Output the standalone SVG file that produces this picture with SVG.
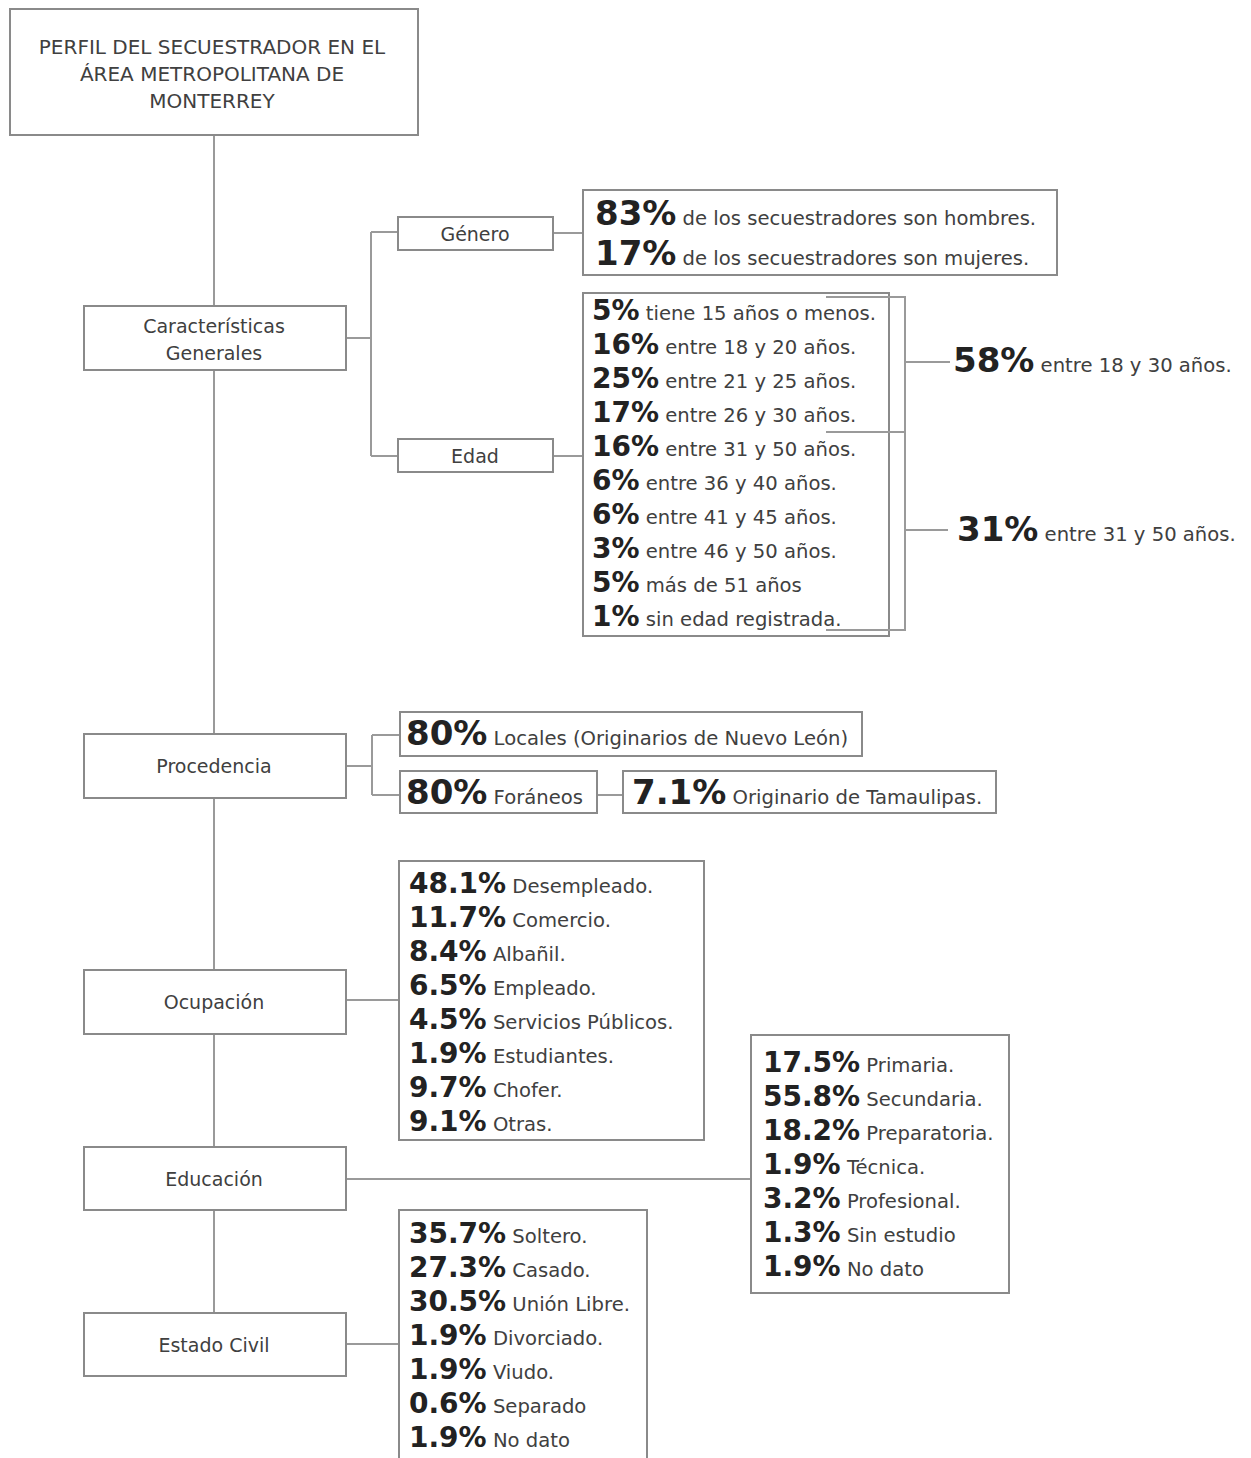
<svg xmlns="http://www.w3.org/2000/svg" width="1251" height="1458" viewBox="0 0 1251 1458">
<style>
.box{fill:#fff;stroke:#8a8a8a;stroke-width:2}
.ln{fill:none;stroke:#9a9a9a;stroke-width:2}
text{font-family:"DejaVu Sans",sans-serif;fill:#404040}
.lbl{font-size:19px;text-anchor:middle}
.ttl{font-size:20px;text-anchor:middle}
.n{font-size:19.6px}
.b{font-weight:bold;font-size:28px;fill:#222}
.B{font-weight:bold;font-size:34px;fill:#222}
</style>
<rect width="1251" height="1458" fill="#fff"/>
<g id="title"><rect class="box" x="10" y="9" width="408" height="126"/>
<text class="ttl" x="212" y="54">PERFIL DEL SECUESTRADOR EN EL</text>
<text class="ttl" x="212" y="81">ÁREA METROPOLITANA DE</text>
<text class="ttl" x="212" y="108">MONTERREY</text></g>
<g id="caracteristicas"><rect class="box" x="84" y="306" width="262" height="64"/>
<text class="lbl" x="214" y="333">Características</text>
<text class="lbl" x="214" y="360">Generales</text></g>
<g id="genero"><rect class="box" x="398" y="217" width="155" height="33"/>
<text class="lbl" x="475" y="241">Género</text></g>
<g id="edad"><rect class="box" x="398" y="439" width="155" height="33"/>
<text class="lbl" x="475" y="463">Edad</text></g>
<g id="genero-datos"><rect class="box" x="583" y="190" width="474" height="85"/>
<text x="595" y="225"><tspan class="B">83%</tspan><tspan class="n"> de los secuestradores son hombres.</tspan></text>
<text x="595" y="265"><tspan class="B">17%</tspan><tspan class="n"> de los secuestradores son mujeres.</tspan></text></g>
<g id="edad-datos"><rect class="box" x="583" y="293" width="306" height="343"/>
<text x="592" y="320"><tspan class="b">5%</tspan><tspan class="n"> tiene 15 años o menos.</tspan></text>
<text x="592" y="354"><tspan class="b">16%</tspan><tspan class="n"> entre 18 y 20 años.</tspan></text>
<text x="592" y="388"><tspan class="b">25%</tspan><tspan class="n"> entre 21 y 25 años.</tspan></text>
<text x="592" y="422"><tspan class="b">17%</tspan><tspan class="n"> entre 26 y 30 años.</tspan></text>
<text x="592" y="456"><tspan class="b">16%</tspan><tspan class="n"> entre 31 y 50 años.</tspan></text>
<text x="592" y="490"><tspan class="b">6%</tspan><tspan class="n"> entre 36 y 40 años.</tspan></text>
<text x="592" y="524"><tspan class="b">6%</tspan><tspan class="n"> entre 41 y 45 años.</tspan></text>
<text x="592" y="558"><tspan class="b">3%</tspan><tspan class="n"> entre 46 y 50 años.</tspan></text>
<text x="592" y="592"><tspan class="b">5%</tspan><tspan class="n"> más de 51 años</tspan></text>
<text x="592" y="626"><tspan class="b">1%</tspan><tspan class="n"> sin edad registrada.</tspan></text></g>
<g id="edad-18-30"><text x="953" y="372"><tspan class="B">58%</tspan><tspan class="n"> entre 18 y 30 años.</tspan></text></g>
<g id="edad-31-50"><text x="957" y="541"><tspan class="B">31%</tspan><tspan class="n"> entre 31 y 50 años.</tspan></text></g>
<g id="procedencia"><rect class="box" x="84" y="734" width="262" height="64"/>
<text class="lbl" x="214" y="773">Procedencia</text></g>
<g id="locales"><rect class="box" x="400" y="712" width="462" height="44"/>
<text x="406" y="745"><tspan class="B">80%</tspan><tspan class="n"> Locales (Originarios de Nuevo León)</tspan></text></g>
<g id="foraneos"><rect class="box" x="400" y="771" width="197" height="42"/>
<text x="406" y="804"><tspan class="B">80%</tspan><tspan class="n"> Foráneos</tspan></text></g>
<g id="tamaulipas"><rect class="box" x="623" y="771" width="373" height="42"/>
<text x="632" y="804"><tspan class="B">7.1%</tspan><tspan class="n"> Originario de Tamaulipas.</tspan></text></g>
<g id="ocupacion"><rect class="box" x="84" y="970" width="262" height="64"/>
<text class="lbl" x="214" y="1009">Ocupación</text></g>
<g id="ocupacion-datos"><rect class="box" x="399" y="861" width="305" height="279"/>
<text x="409" y="893"><tspan class="b">48.1%</tspan><tspan class="n"> Desempleado.</tspan></text>
<text x="409" y="927"><tspan class="b">11.7%</tspan><tspan class="n"> Comercio.</tspan></text>
<text x="409" y="961"><tspan class="b">8.4%</tspan><tspan class="n"> Albañil.</tspan></text>
<text x="409" y="995"><tspan class="b">6.5%</tspan><tspan class="n"> Empleado.</tspan></text>
<text x="409" y="1029"><tspan class="b">4.5%</tspan><tspan class="n"> Servicios Públicos.</tspan></text>
<text x="409" y="1063"><tspan class="b">1.9%</tspan><tspan class="n"> Estudiantes.</tspan></text>
<text x="409" y="1097"><tspan class="b">9.7%</tspan><tspan class="n"> Chofer.</tspan></text>
<text x="409" y="1131"><tspan class="b">9.1%</tspan><tspan class="n"> Otras.</tspan></text></g>
<g id="educacion"><rect class="box" x="84" y="1147" width="262" height="63"/>
<text class="lbl" x="214" y="1186">Educación</text></g>
<g id="educacion-datos"><rect class="box" x="751" y="1035" width="258" height="258"/>
<text x="763" y="1072"><tspan class="b">17.5%</tspan><tspan class="n"> Primaria.</tspan></text>
<text x="763" y="1106"><tspan class="b">55.8%</tspan><tspan class="n"> Secundaria.</tspan></text>
<text x="763" y="1140"><tspan class="b">18.2%</tspan><tspan class="n"> Preparatoria.</tspan></text>
<text x="763" y="1174"><tspan class="b">1.9%</tspan><tspan class="n"> Técnica.</tspan></text>
<text x="763" y="1208"><tspan class="b">3.2%</tspan><tspan class="n"> Profesional.</tspan></text>
<text x="763" y="1242"><tspan class="b">1.3%</tspan><tspan class="n"> Sin estudio</tspan></text>
<text x="763" y="1276"><tspan class="b">1.9%</tspan><tspan class="n"> No dato</tspan></text></g>
<g id="estado-civil"><rect class="box" x="84" y="1313" width="262" height="63"/>
<text class="lbl" x="214" y="1352">Estado Civil</text></g>
<g id="estado-civil-datos"><path class="box" d="M399 1462V1210H647V1462"/>
<text x="409" y="1243"><tspan class="b">35.7%</tspan><tspan class="n"> Soltero.</tspan></text>
<text x="409" y="1277"><tspan class="b">27.3%</tspan><tspan class="n"> Casado.</tspan></text>
<text x="409" y="1311"><tspan class="b">30.5%</tspan><tspan class="n"> Unión Libre.</tspan></text>
<text x="409" y="1345"><tspan class="b">1.9%</tspan><tspan class="n"> Divorciado.</tspan></text>
<text x="409" y="1379"><tspan class="b">1.9%</tspan><tspan class="n"> Viudo.</tspan></text>
<text x="409" y="1413"><tspan class="b">0.6%</tspan><tspan class="n"> Separado</tspan></text>
<text x="409" y="1447"><tspan class="b">1.9%</tspan><tspan class="n"> No dato</tspan></text></g>
<g id="connectors">
<path class="ln" d="M214 136V305M214 371V733M214 799V969M214 1035V1146M214 1211V1312"/>
<path class="ln" d="M347 338H371M371 232V456M371 232H397M371 456H397"/>
<path class="ln" d="M554 233H582M554 456H582"/>
<path class="ln" d="M826 297H905V432H826M905 432V630H826M905 362H950M905 530H948"/>
<path class="ln" d="M347 766H372M372 735V795M372 735H399M372 795H399M598 795H622"/>
<path class="ln" d="M347 1000H398"/>
<path class="ln" d="M347 1179H750"/>
<path class="ln" d="M347 1344H398"/>
</g>
</svg>
